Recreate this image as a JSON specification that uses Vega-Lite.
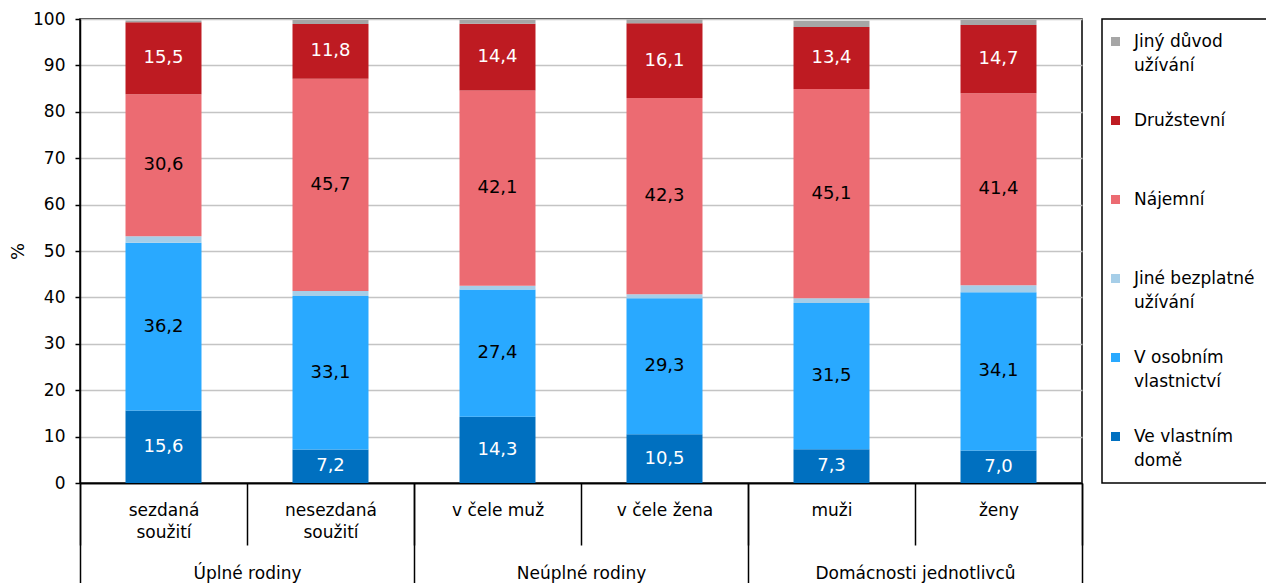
{
  "$schema": "https://vega.github.io/schema/vega-lite/v6.json",
  "width": 1002,
  "height": 464,
  "autosize": {"type": "none"},
  "padding": {"left": 80, "top": 19, "right": 184, "bottom": 100},
  "config": {
    "font": "DejaVu Sans",
    "view": {"stroke": "black", "strokeWidth": 1.5},
    "locale": {"number": {"decimal": ",", "thousands": " ", "grouping": [3], "currency": ["", " Kč"]}},
    "axis": {"labelFont": "DejaVu Sans", "labelFontSize": 17, "labelColor": "black", "titleColor": "black", "domainColor": "black", "tickColor": "black", "domainWidth": 1.5}
  },
  "data": {"values": [
    {"skupina": "Úplné rodiny", "kategorie": "sezdaná soužití", "typ": "Ve vlastním domě", "hodnota": 15.6},
    {"skupina": "Úplné rodiny", "kategorie": "sezdaná soužití", "typ": "V osobním vlastnictví", "hodnota": 36.2},
    {"skupina": "Úplné rodiny", "kategorie": "sezdaná soužití", "typ": "Jiné bezplatné užívání", "hodnota": 1.4},
    {"skupina": "Úplné rodiny", "kategorie": "sezdaná soužití", "typ": "Nájemní", "hodnota": 30.6},
    {"skupina": "Úplné rodiny", "kategorie": "sezdaná soužití", "typ": "Družstevní", "hodnota": 15.5},
    {"skupina": "Úplné rodiny", "kategorie": "sezdaná soužití", "typ": "Jiný důvod užívání", "hodnota": 0.4},
    {"skupina": "Úplné rodiny", "kategorie": "nesezdaná soužití", "typ": "Ve vlastním domě", "hodnota": 7.2},
    {"skupina": "Úplné rodiny", "kategorie": "nesezdaná soužití", "typ": "V osobním vlastnictví", "hodnota": 33.1},
    {"skupina": "Úplné rodiny", "kategorie": "nesezdaná soužití", "typ": "Jiné bezplatné užívání", "hodnota": 1.1},
    {"skupina": "Úplné rodiny", "kategorie": "nesezdaná soužití", "typ": "Nájemní", "hodnota": 45.7},
    {"skupina": "Úplné rodiny", "kategorie": "nesezdaná soužití", "typ": "Družstevní", "hodnota": 11.8},
    {"skupina": "Úplné rodiny", "kategorie": "nesezdaná soužití", "typ": "Jiný důvod užívání", "hodnota": 0.9},
    {"skupina": "Neúplné rodiny", "kategorie": "v čele muž", "typ": "Ve vlastním domě", "hodnota": 14.3},
    {"skupina": "Neúplné rodiny", "kategorie": "v čele muž", "typ": "V osobním vlastnictví", "hodnota": 27.4},
    {"skupina": "Neúplné rodiny", "kategorie": "v čele muž", "typ": "Jiné bezplatné užívání", "hodnota": 0.8},
    {"skupina": "Neúplné rodiny", "kategorie": "v čele muž", "typ": "Nájemní", "hodnota": 42.1},
    {"skupina": "Neúplné rodiny", "kategorie": "v čele muž", "typ": "Družstevní", "hodnota": 14.4},
    {"skupina": "Neúplné rodiny", "kategorie": "v čele muž", "typ": "Jiný důvod užívání", "hodnota": 0.8},
    {"skupina": "Neúplné rodiny", "kategorie": "v čele žena", "typ": "Ve vlastním domě", "hodnota": 10.5},
    {"skupina": "Neúplné rodiny", "kategorie": "v čele žena", "typ": "V osobním vlastnictví", "hodnota": 29.3},
    {"skupina": "Neúplné rodiny", "kategorie": "v čele žena", "typ": "Jiné bezplatné užívání", "hodnota": 0.9},
    {"skupina": "Neúplné rodiny", "kategorie": "v čele žena", "typ": "Nájemní", "hodnota": 42.3},
    {"skupina": "Neúplné rodiny", "kategorie": "v čele žena", "typ": "Družstevní", "hodnota": 16.1},
    {"skupina": "Neúplné rodiny", "kategorie": "v čele žena", "typ": "Jiný důvod užívání", "hodnota": 0.8},
    {"skupina": "Domácnosti jednotlivců", "kategorie": "muži", "typ": "Ve vlastním domě", "hodnota": 7.3},
    {"skupina": "Domácnosti jednotlivců", "kategorie": "muži", "typ": "V osobním vlastnictví", "hodnota": 31.5},
    {"skupina": "Domácnosti jednotlivců", "kategorie": "muži", "typ": "Jiné bezplatné užívání", "hodnota": 1.0},
    {"skupina": "Domácnosti jednotlivců", "kategorie": "muži", "typ": "Nájemní", "hodnota": 45.1},
    {"skupina": "Domácnosti jednotlivců", "kategorie": "muži", "typ": "Družstevní", "hodnota": 13.4},
    {"skupina": "Domácnosti jednotlivců", "kategorie": "muži", "typ": "Jiný důvod užívání", "hodnota": 1.3},
    {"skupina": "Domácnosti jednotlivců", "kategorie": "ženy", "typ": "Ve vlastním domě", "hodnota": 7.0},
    {"skupina": "Domácnosti jednotlivců", "kategorie": "ženy", "typ": "V osobním vlastnictví", "hodnota": 34.1},
    {"skupina": "Domácnosti jednotlivců", "kategorie": "ženy", "typ": "Jiné bezplatné užívání", "hodnota": 1.5},
    {"skupina": "Domácnosti jednotlivců", "kategorie": "ženy", "typ": "Nájemní", "hodnota": 41.4},
    {"skupina": "Domácnosti jednotlivců", "kategorie": "ženy", "typ": "Družstevní", "hodnota": 14.7},
    {"skupina": "Domácnosti jednotlivců", "kategorie": "ženy", "typ": "Jiný důvod užívání", "hodnota": 1.1}
  ]},
  "transform": [
    {"calculate": "indexof(['Ve vlastním domě','V osobním vlastnictví','Jiné bezplatné užívání','Nájemní','Družstevní','Jiný důvod užívání'], datum.typ)", "as": "poradi"},
    {"stack": "hodnota", "groupby": ["kategorie"], "sort": [{"field": "poradi", "order": "ascending"}], "as": ["y0", "y1"]},
    {"calculate": "(datum.y0 + datum.y1) / 2", "as": "stred"}
  ],
  "layer": [
    {
      "layer": [
        {
          "mark": {"type": "bar", "width": {"band": 0.455}},
          "encoding": {
            "x": {
              "field": "kategorie", "type": "nominal",
              "sort": ["sezdaná soužití", "nesezdaná soužití", "v čele muž", "v čele žena", "muži", "ženy"],
              "scale": {"type": "band", "paddingInner": 0, "paddingOuter": 0},
              "axis": {
                "orient": "bottom", "title": null, "tickBand": "extent", "tickSize": 62, "tickWidth": 1.5,
                "labelAngle": 0, "labelBaseline": "top", "labelPadding": -43, "labelLineHeight": 22, "labelLimit": 0,
                "labelFontSize": 17,
                "labelExpr": "datum.label == 'sezdaná soužití' ? ['sezdaná','soužití'] : datum.label == 'nesezdaná soužití' ? ['nesezdaná','soužití'] : datum.label"
              }
            },
            "y": {
              "field": "y0", "type": "quantitative",
              "scale": {"domain": [0, 100], "nice": false},
              "axis": {
                "title": "%", "titleFontSize": 18, "titleFontWeight": "normal", "titlePadding": 5,
                "values": [0, 10, 20, 30, 40, 50, 60, 70, 80, 90, 100],
                "tickSize": 5, "tickWidth": 1.5, "labelPadding": 10, "labelFontSize": 17,
                "grid": true, "gridColor": "#C4C4C4", "gridWidth": 1.5
              }
            },
            "y2": {"field": "y1"},
            "color": {
              "field": "typ", "type": "nominal",
              "scale": {
                "domain": ["Jiný důvod užívání", "Družstevní", "Nájemní", "Jiné bezplatné užívání", "V osobním vlastnictví", "Ve vlastním domě"],
                "range": ["#A6A6A6", "#BE1B22", "#EC6B72", "#A6CEE8", "#29A9FF", "#0070C0"]
              },
              "legend": {
                "title": null, "orient": "right", "offset": 20, "padding": 14, "symbolOffset": -9,
                "strokeColor": "black", "symbolType": "square", "symbolSize": 81, "symbolStrokeWidth": 0,
                "labelFont": "DejaVu Sans", "labelFontSize": 17, "labelColor": "black", "labelLimit": 300, "labelOffset": 10,
                "rowPadding": 37,
                "labelExpr": "datum.label == 'Jiný důvod užívání' ? ['Jiný důvod','užívání'] : datum.label == 'Jiné bezplatné užívání' ? ['Jiné bezplatné','užívání'] : datum.label == 'V osobním vlastnictví' ? ['V osobním','vlastnictví'] : datum.label == 'Ve vlastním domě' ? ['Ve vlastním','domě'] : [datum.label, '']",
                "encode": {
                  "labels": {"update": {"lineHeight": {"value": 24}}},
                  "legend": {"update": {"strokeWidth": {"value": 1.5}}}
                }
              }
            }
          }
        },
        {
          "transform": [{"filter": "datum.hodnota >= 3"}],
          "mark": {"type": "text", "fontSize": 18, "font": "DejaVu Sans"},
          "encoding": {
            "x": {"field": "kategorie", "type": "nominal", "sort": ["sezdaná soužití", "nesezdaná soužití", "v čele muž", "v čele žena", "muži", "ženy"]},
            "y": {"field": "stred", "type": "quantitative"},
            "text": {"field": "hodnota", "type": "quantitative", "format": ".1f"},
            "color": {"condition": {"test": "datum.typ == 'Ve vlastním domě' || datum.typ == 'Družstevní'", "value": "white"}, "value": "black"}
          }
        }
      ]
    },
    {
      "mark": {"type": "text", "text": ""},
      "encoding": {
        "x": {
          "field": "skupina", "type": "nominal",
          "sort": ["Úplné rodiny", "Neúplné rodiny", "Domácnosti jednotlivců"],
          "scale": {"type": "band", "paddingInner": 0, "paddingOuter": 0},
          "axis": {
            "orient": "bottom", "title": null, "tickBand": "extent", "tickSize": 100, "tickWidth": 1.5,
            "labelAngle": 0, "labelBaseline": "top", "labelPadding": -18, "labelFontSize": 17, "labelLimit": 0
          }
        }
      }
    }
  ],
  "resolve": {"scale": {"x": "independent"}, "axis": {"x": "independent"}}
}
